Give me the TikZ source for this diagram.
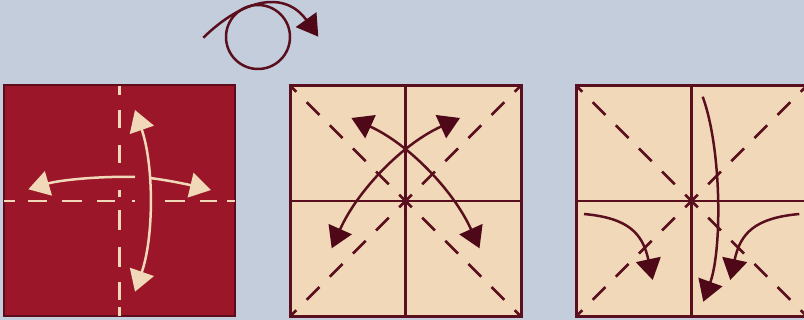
\documentclass[tikz,border=0pt]{standalone}
\usetikzlibrary{arrows.meta}
\definecolor{bg}{HTML}{C4CDDC}
\definecolor{paperred}{HTML}{9B1628}
\definecolor{rededge}{HTML}{5E0C1C}
\definecolor{cream}{HTML}{F0D8B8}
\definecolor{maroon}{HTML}{5A0F1F}
\definecolor{headc}{HTML}{4E0818}
\begin{document}
\begin{tikzpicture}[x=1pt,y=-1pt,
  sq/.style={minimum size=231pt, inner sep=0pt, outer sep=0pt},
  redsq/.style={sq, fill=paperred, draw=rededge, line width=2pt},
  creamsq/.style={sq, fill=cream, draw=maroon, line width=3pt},
  creamline/.style={draw=cream, line width=2.5pt},
  foldline/.style={draw=maroon, line width=2.5pt},
  diag/.style={draw=maroon, line width=2.5pt, dash pattern=on 18pt off 14.67pt, dash phase=9pt},
  creamarrow/.style={draw=cream, line width=2.5pt, fill=none},
  darkarrow/.style={draw=maroon, line width=2.5pt, fill=none},
  ctip/.tip={Triangle[length=21pt,width=25pt,color=cream]},
  dtip/.tip={Triangle[length=21pt,width=25pt,color=headc]}]
\useasboundingbox (0,0) rectangle (804,320);
\clip (0,0) rectangle (804,320);
\fill[bg] (0,0) rectangle (804,320);

% ---------- turn-over symbol ----------
\node[circle, draw=maroon, line width=2.5pt, minimum size=64pt, inner sep=0pt] (turn) at (258,37) {};
\coordinate (t0) at (203.3,37.7);
\coordinate (t1) at (318.3,36.7);
\draw[darkarrow, -dtip] (t0) .. controls (244.3,-2.2) and (285.2,-9.5) .. (t1);

% ---------- square 1 ----------
\node[redsq] (s1) at (119.5,201) {};
\foreach \a/\b in {4/15,28/47,62/82,97/115,132/135,165/185,200/217,227/235}
  \draw[creamline] (\a,201) -- (\b,201);
\foreach \a/\b in {86/95,110/128,145/163,190/197,210/230,247/267,282/300,307/316}
  \draw[creamline] (119.5,\a) -- (119.5,\b);
\coordinate (v0) at (135,110);
\coordinate (v1) at (135,291.7);
\draw[creamarrow, ctip-ctip] (v0) .. controls (154,165) and (154,237) .. (v1);
\coordinate (h0) at (135,177);
\coordinate (h1) at (28.3,189.3);
\draw[creamarrow, -ctip] (h0) .. controls (100,176) and (60,180) .. (h1);
\coordinate (r0) at (150,178);
\coordinate (r1) at (211,190);
\draw[creamarrow, -ctip] (r0) .. controls (170,180.5) and (190,185) .. (r1);

% ---------- square 2 ----------
\node[creamsq] (s2) at (405.5,201) {};
\draw[foldline] (s2.north) -- (s2.south);
\draw[foldline] (s2.west) -- (s2.east);
\draw[diag] (s2.north west) -- (s2.south east);
\draw[diag] (s2.south west) -- (s2.north east);
\coordinate (a0) at (331.7,248.3);
\coordinate (a1) at (460,118);
\draw[darkarrow, dtip-dtip] (a0) .. controls (357.3,190.7) and (402.4,144) .. (a1);
\coordinate (b0) at (351.4,118);
\coordinate (b1) at (479.5,248.3);
\draw[darkarrow, dtip-dtip] (b0) .. controls (408.6,144) and (453.7,190.7) .. (b1);

% ---------- square 3 ----------
\node[creamsq] (s3) at (691.5,201) {};
\draw[foldline] (s3.north) -- (s3.south);
\draw[foldline] (s3.west) -- (s3.east);
\draw[diag] (s3.north west) -- (s3.south east);
\draw[diag] (s3.south west) -- (s3.north east);
\coordinate (l0) at (702.7,96.7);
\coordinate (l1) at (703.3,301.7);
\draw[darkarrow, -dtip] (l0) .. controls (722,150) and (722,250) .. (l1);
\coordinate (p0) at (584,214);
\coordinate (p1) at (652.7,280);
\draw[darkarrow, -dtip] (p0) .. controls (628,218) and (642.6,233) .. (p1);
\coordinate (q0) at (799.3,214);
\coordinate (q1) at (730.3,280);
\draw[darkarrow, -dtip] (q0) .. controls (755,218) and (740.4,233) .. (q1);
\end{tikzpicture}
\end{document}
